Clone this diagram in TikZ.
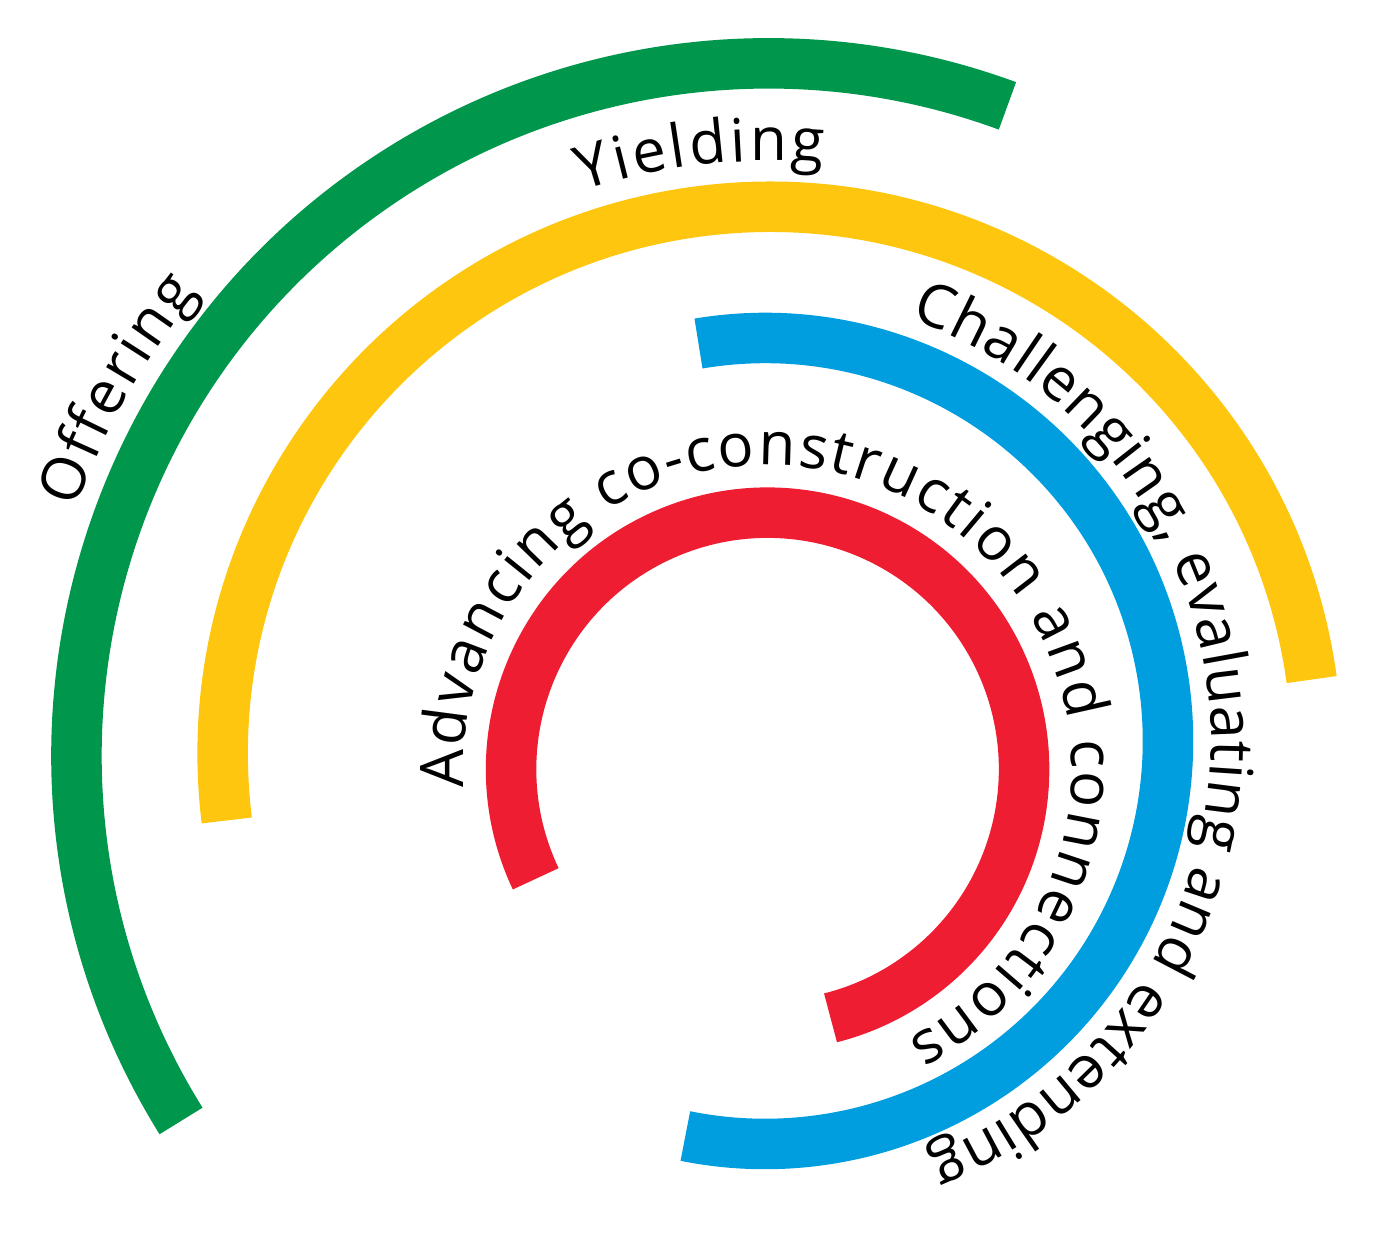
\documentclass[tikz,border=0pt]{standalone}
\usepackage{fontspec}
\usepackage{tikz}
\usetikzlibrary{decorations.text}
\newfontfamily\ringfont{Open Sans}
\newcommand{\ringtext}{\ringfont\fontsize{60}{72}\selectfont}
\definecolor{ringgreen}{HTML}{00974D}
\definecolor{ringyellow}{HTML}{FEC60E}
\definecolor{ringblue}{HTML}{009DDF}
\definecolor{ringred}{HTML}{EE1D32}

\begin{document}
\begin{tikzpicture}[x=1pt,y=1pt,
    band/.style={line width=50.5pt},
    ringlabel/.style={decorate,decoration={text along path,text align={fit to path},text={|\ringtext|#1}}}]
        \useasboundingbox (0,0) rectangle (1400,1240);
        \coordinate (greenc) at (768.5,484.7);
        \coordinate (yellowc) at (769.7,486.2);
        \coordinate (bluec) at (765,499);
        \coordinate (redc) at (767.6,470.8);
        \draw[band,ringgreen,shift={(greenc)}] (211.9:692) arc[start angle=211.9,end angle=69.8,radius=692];
        \draw[band,ringyellow,shift={(yellowc)}] (187:547) arc[start angle=187,end angle=7.8,radius=547];
        \draw[band,ringblue,shift={(bluec)}] (99.5:403) arc[start angle=99.5,end angle=-101.4,radius=403];
        \draw[band,ringred,shift={(redc)}] (205.3:256.5) arc[start angle=205.3,end angle=-75.8,radius=256.5];
        \path[ringlabel=Offering,shift={(greenc)}] (160.4:735) arc[start angle=160.4,end angle=140.9,radius=735];
        \path[ringlabel=Yielding,shift={(yellowc)}] (108.4:593) arc[start angle=108.4,end angle=84.8,radius=593];
        \path[ringlabel={Challenging, evaluating and extending},shift={(bluec)}] (71:446) arc[start angle=71,end angle=-68.6,radius=446];
        \path[ringlabel={Advancing co-construction and connections},shift={(redc)}] (183.5:304) arc[start angle=183.5,end angle=-62.6,radius=304];
      \end{tikzpicture}
\end{document}
